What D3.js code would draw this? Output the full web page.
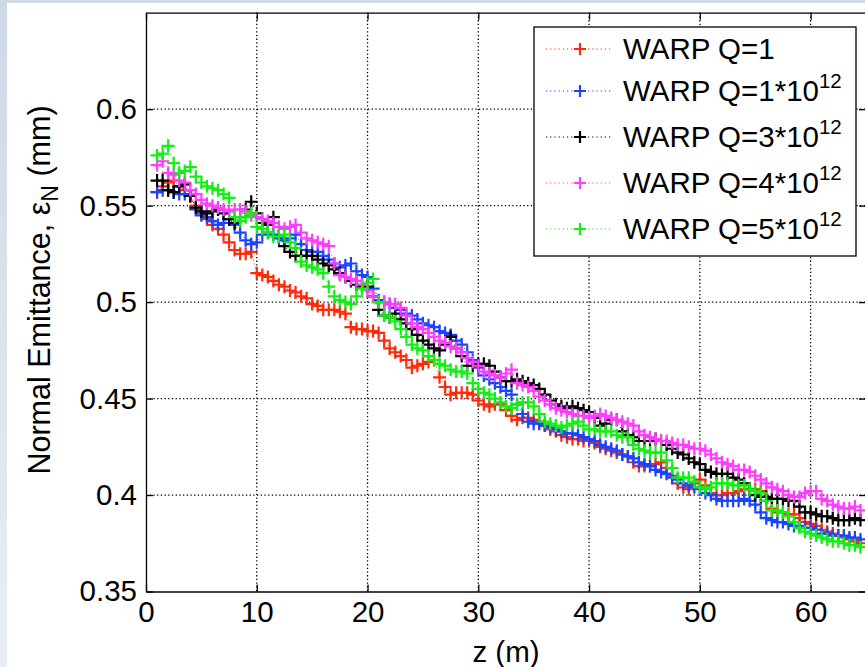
<!DOCTYPE html>
<html>
<head>
<meta charset="utf-8">
<script src="https://cdn.jsdelivr.net/npm/d3@7"></script>
<style>
  body { margin: 0; }
  svg { display: block; font-family: "Liberation Sans", Arial, sans-serif; }
</style>
</head>
<body>
<svg id="chart" width="865" height="667"></svg>
<script>
// sample positions along z (m), every 0.5 m
const zPos = d3.range(1, 65, 0.5);

const xTicks = [0, 10, 20, 30, 40, 50, 60];
const yTicks = [0.35, 0.4, 0.45, 0.5, 0.55, 0.6];

const seriesNames = ["WARP Q=1", "WARP Q=1*10", "WARP Q=3*10", "WARP Q=4*10", "WARP Q=5*10"];
const seriesSup = ["", "12", "12", "12", "12"];
const seriesColors = ["#ff2a0a", "#1a44ff", "#000000", "#ff3cff", "#14ee14"];

const warpQ1 = [
  0.557,0.560,0.562,0.563,0.560,0.558,0.555,0.550,0.546,0.543,
  0.540,0.538,0.535,0.531,0.527,0.525,0.525,0.526,0.515,0.514,
  0.513,0.511,0.509,0.508,0.506,0.505,0.503,0.502,0.499,0.498,
  0.496,0.496,0.496,0.495,0.494,0.487,0.486,0.486,0.485,0.485,
  0.484,0.480,0.476,0.474,0.472,0.470,0.466,0.467,0.468,0.469,
  0.470,0.461,0.456,0.452,0.453,0.453,0.453,0.452,0.449,0.447,
  0.446,0.447,0.447,0.444,0.441,0.439,0.440,0.440,0.439,0.438,
  0.436,0.434,0.433,0.431,0.430,0.429,0.429,0.428,0.428,0.427,
  0.425,0.424,0.423,0.422,0.421,0.420,0.417,0.415,0.415,0.415,
  0.416,0.417,0.414,0.410,0.406,0.404,0.403,0.406,0.408,0.405,
  0.401,0.400,0.400,0.401,0.401,0.402,0.403,0.403,0.403,0.402,
  0.397,0.393,0.391,0.391,0.390,0.390,0.388,0.386,0.385,0.384,
  0.382,0.381,0.380,0.379,0.378,0.377,0.376,0.375
];
const warpQ1e12 = [
  0.557,0.558,0.558,0.557,0.556,0.556,0.555,0.548,0.545,0.544,
  0.542,0.540,0.541,0.543,0.540,0.536,0.532,0.530,0.531,0.535,
  0.536,0.535,0.533,0.532,0.533,0.535,0.530,0.527,0.526,0.526,
  0.524,0.522,0.520,0.518,0.519,0.520,0.516,0.514,0.513,0.507,
  0.501,0.500,0.499,0.497,0.496,0.494,0.493,0.491,0.489,0.488,
  0.487,0.485,0.484,0.483,0.480,0.478,0.474,0.470,0.466,0.462,
  0.460,0.458,0.456,0.454,0.452,0.447,0.442,0.438,0.437,0.437,
  0.436,0.435,0.434,0.433,0.432,0.432,0.431,0.430,0.429,0.428,
  0.426,0.425,0.424,0.423,0.421,0.420,0.419,0.417,0.416,0.415,
  0.413,0.412,0.411,0.409,0.408,0.406,0.405,0.404,0.403,0.401,
  0.400,0.398,0.397,0.397,0.397,0.397,0.398,0.397,0.395,0.391,
  0.388,0.387,0.386,0.386,0.385,0.384,0.384,0.383,0.383,0.382,
  0.380,0.380,0.379,0.379,0.379,0.378,0.378,0.377
];
const warpQ3e12 = [
  0.563,0.563,0.558,0.557,0.560,0.561,0.555,0.549,0.547,0.546,
  0.547,0.548,0.546,0.543,0.541,0.544,0.548,0.552,0.546,0.541,
  0.540,0.544,0.534,0.529,0.526,0.524,0.524,0.524,0.524,0.522,
  0.520,0.519,0.517,0.515,0.513,0.511,0.509,0.508,0.508,0.503,
  0.496,0.493,0.492,0.494,0.491,0.489,0.486,0.483,0.480,0.478,
  0.476,0.475,0.478,0.482,0.476,0.472,0.467,0.467,0.468,0.468,
  0.467,0.464,0.461,0.459,0.459,0.460,0.459,0.458,0.457,0.455,
  0.452,0.449,0.447,0.446,0.445,0.446,0.445,0.444,0.443,0.440,
  0.436,0.437,0.439,0.439,0.433,0.431,0.430,0.428,0.428,0.428,
  0.429,0.428,0.426,0.424,0.422,0.421,0.419,0.417,0.416,0.413,
  0.412,0.411,0.411,0.411,0.409,0.408,0.406,0.403,0.400,0.399,
  0.399,0.398,0.398,0.398,0.397,0.397,0.394,0.391,0.391,0.390,
  0.389,0.389,0.388,0.387,0.387,0.387,0.388,0.387
];
const warpQ4e12 = [
  0.571,0.573,0.567,0.566,0.563,0.562,0.558,0.556,0.553,0.551,
  0.550,0.549,0.548,0.547,0.548,0.548,0.547,0.545,0.544,0.543,
  0.542,0.541,0.539,0.538,0.539,0.540,0.536,0.533,0.532,0.531,
  0.530,0.529,0.520,0.514,0.513,0.512,0.511,0.509,0.506,0.503,
  0.500,0.500,0.499,0.499,0.497,0.493,0.489,0.487,0.486,0.484,
  0.482,0.480,0.479,0.477,0.476,0.474,0.471,0.469,0.467,0.464,
  0.463,0.462,0.461,0.463,0.465,0.458,0.457,0.456,0.454,0.451,
  0.449,0.447,0.445,0.444,0.443,0.442,0.441,0.441,0.440,0.441,
  0.442,0.441,0.440,0.439,0.438,0.437,0.436,0.433,0.431,0.430,
  0.429,0.428,0.428,0.427,0.426,0.426,0.425,0.424,0.424,0.423,
  0.421,0.419,0.417,0.416,0.415,0.413,0.413,0.412,0.410,0.408,
  0.406,0.404,0.403,0.402,0.400,0.399,0.399,0.401,0.402,0.402,
  0.398,0.397,0.395,0.394,0.393,0.393,0.394,0.392
];
const warpQ5e12 = [
  0.576,0.577,0.581,0.572,0.567,0.568,0.570,0.565,0.562,0.560,
  0.559,0.558,0.556,0.554,0.544,0.542,0.544,0.546,0.539,0.538,
  0.536,0.534,0.534,0.535,0.531,0.528,0.521,0.519,0.518,0.517,
  0.515,0.508,0.503,0.501,0.500,0.499,0.503,0.507,0.510,0.512,
  0.500,0.493,0.492,0.490,0.486,0.482,0.478,0.476,0.475,0.472,
  0.470,0.468,0.467,0.465,0.464,0.464,0.463,0.458,0.455,0.453,
  0.452,0.450,0.448,0.446,0.445,0.447,0.448,0.448,0.446,0.442,
  0.438,0.437,0.436,0.435,0.436,0.437,0.438,0.436,0.434,0.434,
  0.433,0.433,0.433,0.431,0.430,0.430,0.426,0.424,0.423,0.422,
  0.422,0.422,0.418,0.414,0.409,0.409,0.409,0.407,0.404,0.403,
  0.404,0.406,0.406,0.406,0.405,0.405,0.405,0.403,0.402,0.401,
  0.397,0.392,0.392,0.391,0.389,0.386,0.383,0.381,0.380,0.379,
  0.378,0.377,0.376,0.376,0.375,0.374,0.374,0.373
];

const seriesValues = [warpQ1, warpQ1e12, warpQ3e12, warpQ4e12, warpQ5e12];

const svg = d3.select("#chart");
const W = 865, H = 667;
const plot = { left: 146, top: 12.7, right: 866, bottom: 591.5 };
const fontSize = 29.5;

// slide background
const defs = svg.append("defs");
const grad = defs.append("linearGradient").attr("id", "bg")
  .attr("x1", 0).attr("y1", 0).attr("x2", 0).attr("y2", 1);
grad.append("stop").attr("offset", 0).attr("stop-color", "#cdd9e5");
grad.append("stop").attr("offset", 1).attr("stop-color", "#e8eef4");
svg.append("rect").attr("width", W).attr("height", H).attr("fill", "url(#bg)");
svg.append("rect").attr("x", 7).attr("y", 3).attr("width", W - 7).attr("height", H - 3).attr("fill", "#fff");

defs.append("clipPath").attr("id", "plotclip").append("rect")
  .attr("x", plot.left).attr("y", plot.top)
  .attr("width", plot.right - plot.left).attr("height", plot.bottom - plot.top);

const x = d3.scaleLinear().domain([0, 65]).range([plot.left, plot.right]);
const y = d3.scaleLinear().domain([0.35, 0.65]).range([plot.bottom, plot.top]);

// grid
const grid = svg.append("g").attr("stroke", "#000").attr("stroke-width", 1.3)
  .attr("stroke-dasharray", "1.3,2.4");
grid.selectAll(".gx").data(xTicks.filter(d => d > 0)).join("line")
  .attr("x1", d => x(d)).attr("x2", d => x(d))
  .attr("y1", plot.top).attr("y2", plot.bottom);
grid.selectAll(".gy").data(yTicks.filter(d => d > 0.35)).join("line")
  .attr("y1", d => y(d)).attr("y2", d => y(d))
  .attr("x1", plot.left).attr("x2", plot.right);

// series
const plus = "M-6.5,0H6.5M0,-6.5V6.5";
const line = d3.line().x(d => x(d[0])).y(d => y(d[1]));
const data = seriesValues.map(vals => vals.map((v, i) => [zPos[i], v]));

const layers = svg.append("g").attr("clip-path", "url(#plotclip)")
  .selectAll("g").data(data).join("g");
layers.append("path")
  .attr("d", line)
  .attr("fill", "none")
  .attr("stroke", (d, i) => seriesColors[i])
  .attr("stroke-width", 1)
  .attr("stroke-dasharray", "1,3");
layers.each(function(d, i) {
  d3.select(this).selectAll("path.pt").data(d).join("path")
    .attr("class", "pt")
    .attr("transform", p => `translate(${x(p[0])},${y(p[1])})`)
    .attr("d", plus)
    .attr("stroke", seriesColors[i])
    .attr("stroke-width", 2.2);
});

// axes
const axisStyle = g => {
  g.select(".domain").attr("stroke", "#000").attr("stroke-width", 1.3);
  g.selectAll(".tick line").attr("stroke", "#000").attr("stroke-width", 1.3);
  g.selectAll("text").attr("fill", "#000").style("font-size", fontSize + "px")
    .style("font-family", "'Liberation Sans', Arial, sans-serif");
};

svg.append("g").attr("transform", `translate(0,${plot.bottom})`)
  .call(d3.axisBottom(x).tickValues(xTicks).tickSize(-7).tickSizeOuter(0).tickPadding(10))
  .call(axisStyle);
svg.append("g").attr("transform", `translate(${plot.left},0)`)
  .call(d3.axisLeft(y).tickValues(yTicks).tickSize(-7).tickSizeOuter(0).tickPadding(9)
    .tickFormat(d3.format("~g")))
  .call(axisStyle);
svg.append("g").attr("transform", `translate(0,${plot.top})`)
  .call(d3.axisTop(x).tickValues(xTicks).tickSize(-7).tickSizeOuter(0).tickFormat(""))
  .call(axisStyle);
svg.append("g").attr("transform", `translate(${plot.right},0)`)
  .call(d3.axisRight(y).tickValues(yTicks).tickSize(-7).tickSizeOuter(0).tickFormat(""))
  .call(axisStyle);

// axis labels
svg.append("text")
  .attr("x", (plot.left + plot.right) / 2).attr("y", 662)
  .attr("text-anchor", "middle").style("font-size", fontSize + "px")
  .text("z (m)");

const yl = svg.append("text")
  .attr("transform", `translate(50,290) rotate(-90)`)
  .attr("text-anchor", "middle").style("font-size", "30.5px");
yl.append("tspan").text("Normal Emittance,  \u03b5");
yl.append("tspan").attr("dy", 8).style("font-size", "23px").text("N");
yl.append("tspan").attr("dy", -8).text(" (mm)");

// legend
const leg = svg.append("g");
leg.append("rect").attr("x", 534).attr("y", 27).attr("width", 322).attr("height", 229)
  .attr("fill", "#fff").attr("stroke", "#000").attr("stroke-width", 1.3);
const rowY = i => i === 0 ? 49 : 45 + i * 46;
const rows = leg.selectAll("g.row").data(seriesNames).join("g")
  .attr("class", "row")
  .attr("transform", (d, i) => `translate(0,${rowY(i)})`);
rows.append("line").attr("x1", 546).attr("x2", 613)
  .attr("stroke", (d, i) => seriesColors[i]).attr("stroke-width", 1.2)
  .attr("stroke-dasharray", "1.2,3");
rows.append("path").attr("transform", "translate(580,0)").attr("d", "M-6,0H6M0,-6V6")
  .attr("stroke", (d, i) => seriesColors[i]).attr("stroke-width", 2.2);
const lt = rows.append("text").attr("x", 623).attr("y", 10).style("font-size", fontSize + "px");
lt.append("tspan").text(d => d);
lt.append("tspan").attr("dy", -13).style("font-size", "20.5px").text((d, i) => seriesSup[i]);
</script>
</body>
</html>
